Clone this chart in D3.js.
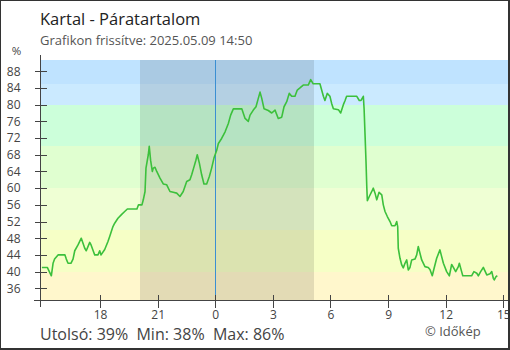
<!DOCTYPE html>
<html><head><meta charset="utf-8">
<script src="https://cdn.jsdelivr.net/npm/d3@7"></script>
<style>body{margin:0;background:#fff}svg{display:block}text{font-family:"Open Sans",sans-serif}</style>
</head><body><svg id="c" width="510" height="350"></svg>
<script>
// hours relative to midnight of 2025.05.09 (negative = previous day)
const hours = [-9.03,-8.75,-8.54,-8.45,-8.37,-8.19,-7.83,-7.76,-7.67,-7.52,-7.41,-7.32,-7.15,-6.98,-6.80,-6.72,-6.54,-6.47,-6.28,-6.11,-6.02,-5.95,-5.76,-5.59,-5.50,-5.33,-5.24,-5.07,-4.90,-4.72,-4.58,-4.08,-4.00,-3.82,-3.75,-3.66,-3.61,-3.49,-3.44,-3.37,-3.28,-3.23,-3.14,-3.05,-2.88,-2.71,-2.53,-2.36,-2.19,-2.01,-1.84,-1.67,-1.49,-1.32,-1.23,-1.11,-1.01,-0.94,-0.83,-0.71,-0.59,-0.45,-0.31,-0.19,-0.07,0.07,0.16,0.33,0.51,0.68,0.80,0.94,1.38,1.55,1.72,1.81,1.98,2.12,2.24,2.33,2.42,2.54,2.76,2.94,3.11,3.28,3.46,3.58,3.72,3.85,3.98,4.15,4.27,4.41,4.58,4.84,4.97,5.10,5.45,5.54,5.63,5.71,5.83,5.97,6.06,6.15,6.41,6.53,6.67,6.76,6.84,7.37,7.50,7.59,7.71,7.75,7.80,7.85,7.89,7.92,8.02,8.15,8.23,8.32,8.41,8.53,8.67,8.75,8.84,8.96,9.10,9.19,9.36,9.45,9.50,9.53,9.62,9.71,9.79,9.88,9.97,10.05,10.14,10.23,10.40,10.49,10.57,10.66,10.75,10.92,11.09,11.18,11.30,11.39,11.53,11.70,11.79,11.88,12.05,12.19,12.31,12.40,12.52,12.66,12.71,12.83,12.89,13.35,13.47,13.62,13.70,13.82,13.96,14.14,14.31,14.40,14.48,14.53,14.62,14.69];
const values = [41,41,39,42,43,44,44,43,42,42,43,45,46.4,48,45.6,45,47,46.4,44,44,45,44,45.3,47.2,48.4,50.8,51.6,52.8,53.6,54.4,55,55,56,56,57.2,59.2,64.8,68,70,66.7,64,64.8,65,64,62.4,61,60.8,59.2,59,58.8,58,59.2,61.6,62,63.2,65.1,66.7,68,66,63.2,61,61,62.8,64.8,67.2,69,70.7,71.9,73.5,75.5,77.5,79,79,76.7,76,77.5,78.7,79.5,81.5,83,81.5,79,78.6,78,78.7,76.7,77,79.5,80.7,82.7,82,82,83.5,84,84.7,84.7,86,85,85,83.5,82,81,82.7,82,80.3,79,78.8,78,80,81,82,82,81,81,82,79,72.7,66.3,60.3,57,58,59.2,60,58.8,57.2,59,58.4,56,54.4,53.2,52,51,51,52,50.8,45.6,43.2,41.6,40.9,42,42.8,40.4,41,42.8,43,44,46,44.4,42.8,41.2,41,40.5,39,40.7,43.2,45.2,43.6,42,40,39,41.7,41,40,41.2,42,40,39,39,40,39.6,39,40,41,39.2,39.5,40,38.4,38,38.8,39];
const yTicks = [36,40,44,48,52,56,60,64,68,72,76,80,84,88];
const xTickHours = [-6,-3,0,3,6,9,12,15];
const xTickLabels = ["18","21","0","3","6","9","12","15"];
const bandBreaks = [33.2,40,50,60,70,80,85,90.7];
const bandColors = ["#fff7cc","#f6ffc6","#efffd4","#e0ffd0","#ccffda","#cbeaff","#bfe3ff"];
const nightStart = -3.92, nightEnd = 5.14;
const titleText = "Kartal - Páratartalom";
const subtitleText = "Grafikon frissítve: 2025.05.09 14:50";
const statsText = "Utolsó: 39%  Min: 38%  Max: 86%";
const creditText = "© Időkép";

const svg = d3.select("#c");
const L = 40, R = 508, T = 60, B = 300;
const x = d3.scaleLinear().domain([-9.13, 15.245]).range([L, R]);
const y = d3.scaleLinear().domain([33.2, 90.7]).range([B, T]);

// bands
const bands = bandColors.map((c,i)=>({lo:bandBreaks[i],hi:bandBreaks[i+1],c}));
svg.append("g").selectAll("rect").data(bands).join("rect")
  .attr("x", L).attr("width", R-L)
  .attr("y", d=>y(d.hi)).attr("height", d=>y(d.lo)-y(d.hi))
  .attr("fill", d=>d.c).attr("shape-rendering","crispEdges");

// night shading
svg.append("rect").attr("x", x(nightStart)).attr("width", x(nightEnd)-x(nightStart))
  .attr("y", T).attr("height", B-T).attr("fill","rgba(0,0,0,0.11)").attr("shape-rendering","crispEdges");

// midnight line
svg.append("line").attr("x1", Math.round(x(0))+0.5).attr("x2", Math.round(x(0))+0.5)
  .attr("y1", T).attr("y2", B).attr("stroke","#3b8fd2").attr("stroke-width",1);

// data line
const data = hours.map((h,i)=>({h, v:values[i]}));
svg.append("path").datum(data)
  .attr("d", d3.line().x(d=>x(d.h)).y(d=>y(d.v)))
  .attr("fill","none").attr("stroke","#3cc03c").attr("stroke-width",1.6).attr("stroke-linejoin","round");

// axes
const axisColor = "#444";
const yAxis = svg.append("g").attr("transform",`translate(${L+0.5},0)`)
  .call(d3.axisLeft(y).tickValues(yTicks).tickSize(6).tickPadding(14).tickFormat(d3.format("d")));
yAxis.select(".domain").remove();
yAxis.selectAll(".tick line").attr("x1",6).attr("x2",-6);
yAxis.append("line").attr("x1",0).attr("x2",0).attr("y1",55).attr("y2",307);
const xAxis = svg.append("g").attr("transform",`translate(0,${B+0.5})`)
  .call(d3.axisBottom(x).tickValues(xTickHours).tickSize(6).tickPadding(4).tickFormat((d,i)=>xTickLabels[i]));
xAxis.select(".domain").remove();
xAxis.selectAll(".tick line").attr("y1",-6).attr("y2",7);
xAxis.append("line").attr("x1",34).attr("x2",R).attr("y1",0).attr("y2",0);
svg.selectAll(".tick line, g > line").attr("stroke",axisColor).attr("shape-rendering","crispEdges");
svg.selectAll(".tick text").attr("fill","#444").attr("font-size",12).attr("font-family",'"Open Sans",sans-serif');
xAxis.selectAll(".tick text").attr("dy","0.71em");

// texts
svg.append("text").attr("x",40).attr("y",25).attr("font-size",16.5).attr("fill","#222").text(titleText);
svg.append("text").attr("x",40).attr("y",45).attr("font-size",13).attr("fill","#555").text(subtitleText);
svg.append("text").attr("x",16.5).attr("y",55).attr("text-anchor","middle").attr("font-size",11.5).attr("fill","#444").text("%");
svg.append("text").attr("x",40).attr("y",339.5).attr("font-size",16).attr("fill","#444").style("white-space","pre").text(statsText);
svg.append("text").attr("x",425).attr("y",336).attr("font-size",13).attr("fill","#555").text(creditText);

// frame
svg.append("rect").attr("x",0).attr("y",0).attr("width",509).attr("height",349)
  .attr("fill","none").attr("stroke","#333").attr("stroke-width",2);
</script></body></html>
